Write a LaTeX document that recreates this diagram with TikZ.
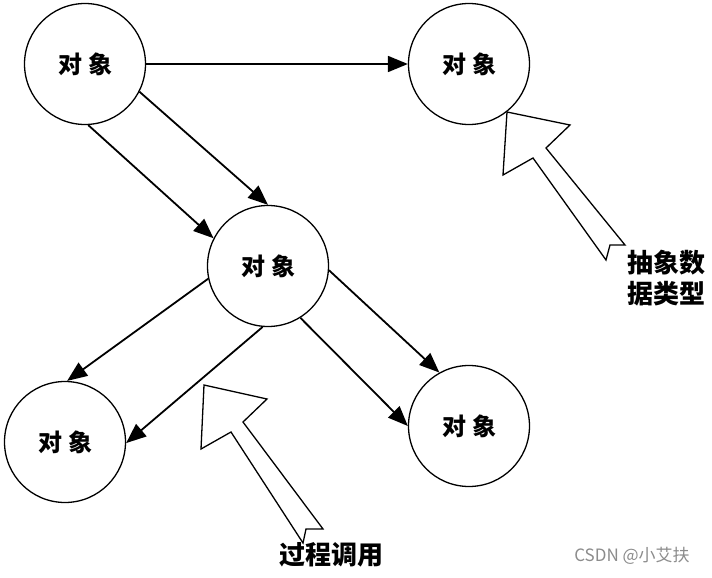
\documentclass[tikz,border=0pt]{standalone}
\usepackage{fontspec}
\newfontfamily\cjk{Noto Sans CJK SC}
\usetikzlibrary{arrows.meta}
\begin{document}
\begin{tikzpicture}[x=1pt,y=-1pt,
  obj/.style={circle,draw,line width=1.3pt,minimum size=121pt,inner sep=0pt,
    font=\cjk\bfseries\fontsize{24}{24}\selectfont},
  conn/.style={line width=1.8pt,-{Triangle[length=20pt,width=16pt]}},
  hollow/.style={draw,line width=1.3pt,fill=white,line join=miter},
  lbl/.style={font=\cjk\bfseries\fontsize{26}{31}\selectfont,align=center,inner sep=0pt},
  wm/.style={font=\cjk\fontsize{17}{17}\selectfont,text=black!45,inner sep=0pt}]
\useasboundingbox (0,0) rectangle (712,578);
\fill[white] (0,0) rectangle (712,578);
% objects
\node[obj] (tl) at (85,64) {对\hspace{6pt}象};
\node[obj] (tr) at (469,64) {对\hspace{6pt}象};
\node[obj] (mid) at (268,266) {对\hspace{6pt}象};
\node[obj] (bl) at (65,442) {对\hspace{6pt}象};
\node[obj] (br) at (469,426) {对\hspace{6pt}象};
% connectors
\draw[conn] (tl.0) -- (tr.180);
\draw[conn] (tl.-87) -- (mid.153);
\draw[conn] (tl.-27) -- (mid.90);
\draw[conn] (mid.192) -- (bl.88);
\draw[conn] (mid.265) -- (bl.-1);
\draw[conn] (mid.-4) -- (br.119);
\draw[conn] (mid.-58) -- (br.180);
% hollow pointer arrows
\draw[hollow] (507,112) -- (570,125) -- (546,148) -- (625,245) -- (610,245)
  -- (606,260) -- (533,158) -- (503,175) -- cycle;
\draw[hollow] (204,385) -- (267,399) -- (243,422) -- (323,529) -- (306,529)
  -- (303,543) -- (231,432) -- (201,449) -- cycle;
% labels
\node[lbl] (adt) at (666,278) {抽象数\\据类型};
\node[lbl] (pc) at (331,555) {过程调用};
\node[wm] (mark) at (632,556) {CSDN @小艾扶};
\end{tikzpicture}
\end{document}
